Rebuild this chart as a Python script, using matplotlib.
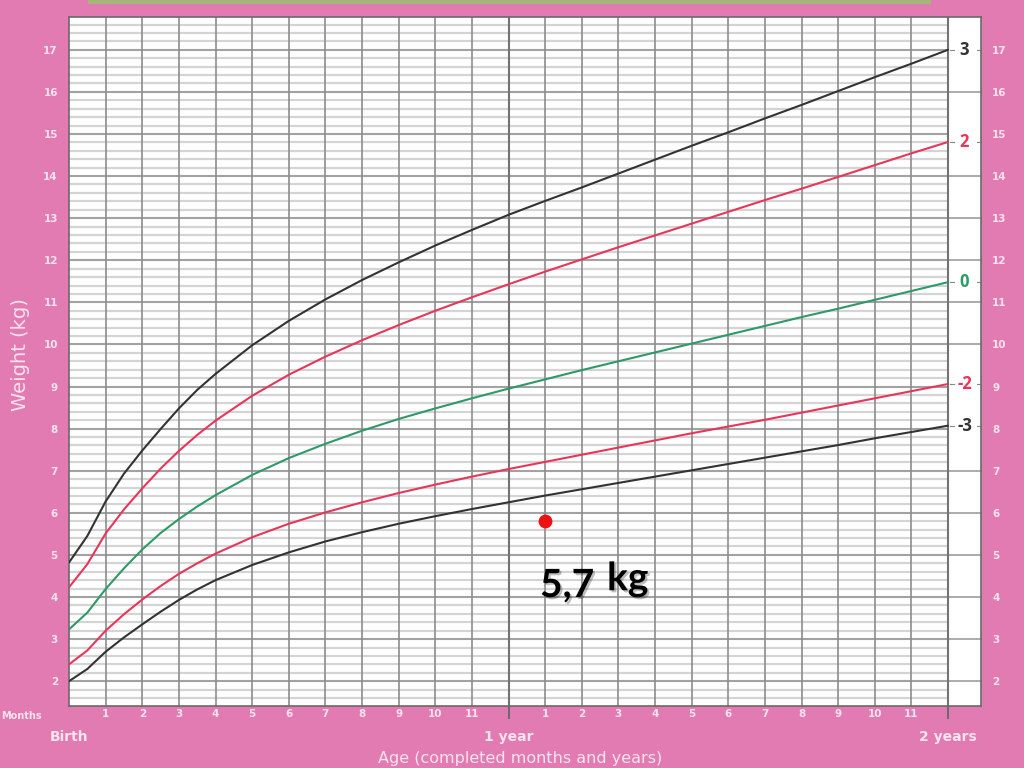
import matplotlib.pyplot as plt
import matplotlib.patheffects as pe
import numpy as np

# WHO weight-for-age, girls, birth to 2 years (kg)
age = [0, 0.5, 1, 1.5, 2, 2.5, 3, 3.5, 4, 5, 6, 7, 8, 9, 10, 11, 12, 13, 14,
       15, 16, 17, 18, 19, 20, 21, 22, 23, 24]

sd3 = [4.82, 5.45, 6.27, 6.93, 7.48, 7.99, 8.48, 8.92, 9.30, 9.98, 10.56,
       11.07, 11.53, 11.95, 12.35, 12.72, 13.08, 13.41, 13.73, 14.06, 14.39,
       14.72, 15.04, 15.37, 15.69, 16.02, 16.35, 16.67, 17.00]
sd2 = [4.23, 4.78, 5.51, 6.08, 6.58, 7.05, 7.47, 7.85, 8.19, 8.78, 9.28,
       9.71, 10.10, 10.46, 10.80, 11.12, 11.43, 11.73, 12.02, 12.31, 12.59,
       12.87, 13.15, 13.43, 13.70, 13.98, 14.26, 14.54, 14.81]
sd0 = [3.23, 3.63, 4.19, 4.68, 5.13, 5.52, 5.85, 6.15, 6.42, 6.90, 7.30,
       7.64, 7.95, 8.23, 8.48, 8.72, 8.95, 9.17, 9.39, 9.60, 9.81, 10.02,
       10.23, 10.44, 10.65, 10.85, 11.06, 11.27, 11.48]
sd2neg = [2.40, 2.73, 3.20, 3.59, 3.94, 4.26, 4.55, 4.80, 5.03, 5.42, 5.74,
          6.01, 6.25, 6.47, 6.67, 6.86, 7.04, 7.21, 7.38, 7.55, 7.72, 7.89,
          8.05, 8.21, 8.38, 8.55, 8.72, 8.89, 9.06]
sd3neg = [2.00, 2.29, 2.70, 3.04, 3.35, 3.65, 3.93, 4.18, 4.40, 4.76, 5.06,
          5.32, 5.54, 5.74, 5.92, 6.09, 6.25, 6.41, 6.56, 6.71, 6.86, 7.01,
          7.16, 7.31, 7.46, 7.61, 7.77, 7.92, 8.07]

curve_labels = ['3', '2', '0', '-2', '-3']
curve_colors = ['#333333', '#e8365a', '#2e9a68', '#e8365a', '#333333']

child_age = 13      # months
child_weight = 5.8  # kg (where the dot sits)
child_text = '5,7'

y_ticks = list(range(2, 18))
month_ticks = list(range(1, 12)) + list(range(13, 24))
month_labels = [str(m) for m in range(1, 12)] * 2

PINK = '#e27bb1'
LIGHT = '#fbe3ef'


def main():
    fig = plt.figure(figsize=(10.24, 7.68), dpi=100, facecolor=PINK)
    ax = fig.add_axes([0.0674, 0.0807, 0.8906, 0.8972])
    ax.set_facecolor('white')
    ax.set_xlim(0, 24.9)
    ax.set_ylim(1.41, 17.78)

    # thin olive strip at the very top
    fig.patches.append(plt.Rectangle((0.086, 0.996), 0.822, 0.004,
                                     transform=fig.transFigure,
                                     color='#a9b27a', zorder=0))

    # grid
    minor = np.arange(1.6, 17.8, 0.2)
    ax.hlines(minor, 0, 24, colors='#d4d4d4', lw=1.6, zorder=1)
    ax.hlines(y_ticks, 0, 24, colors='#939393', lw=1.1, zorder=1)
    box_lines = [k for k in y_ticks if k not in (8, 9, 15, 17)]
    ax.hlines(box_lines, 24, 24.9, colors='#939393', lw=1.1, zorder=1)
    ax.vlines(range(1, 25), 1.41, 17.78, colors='#8c8c8c', lw=1.2, zorder=1)
    ax.vlines([12, 24], 1.41, 17.78, colors='#737373', lw=1.5, zorder=1)

    # curves
    series = [sd3, sd2, sd0, sd2neg, sd3neg]
    for vals, lab, col in zip(series, curve_labels, curve_colors):
        ax.plot(age, vals, color=col, lw=1.5, zorder=3, solid_capstyle='round')
        ax.text(24.45, vals[-1], lab, color=col, fontsize=12,
                fontweight='bold', ha='center', va='center',
                family='Open Sans', zorder=4)
        ax.plot([24.05, 24.15], [vals[-1]] * 2, color='#888888', lw=0.8)
        ax.plot([24.8, 24.9], [vals[-1]] * 2, color='#888888', lw=0.8,
                clip_on=False)

    # child point
    ax.scatter([child_age], [child_weight], s=80, color='#ee1111', zorder=5)
    shadow = [pe.withSimplePatchShadow(offset=(1.5, -1.5), alpha=0.25)]
    ax.text(12.86, 4.0, child_text, fontsize=28, fontweight='bold',
            family='Lato', color='black', ha='left', va='baseline', zorder=5,
            path_effects=shadow)
    ax.text(14.69, 4.16, 'kg', fontsize=28, fontweight='bold',
            family='Lato', color='black', ha='left', va='baseline', zorder=5,
            path_effects=shadow)

    # axes styling
    for s in ax.spines.values():
        s.set_color('#6a6a6a')
        s.set_linewidth(1.2)
    ax.set_yticks(y_ticks)
    ax.set_yticklabels([str(t) for t in y_ticks])
    ax.tick_params(axis='y', length=0, labelsize=7.5, labelcolor=LIGHT,
                   pad=8, labelleft=True, labelright=True)
    ax.set_xticks(month_ticks)
    ax.set_xticklabels(month_labels)
    ax.tick_params(axis='x', length=0, labelsize=7.5, labelcolor=LIGHT, pad=2)
    for t in ax.get_xticklabels() + ax.get_yticklabels():
        t.set_fontweight('bold')

    ax.vlines([12, 24], 1.1, 1.41, colors='#6a6a6a', lw=1.4, clip_on=False)

    fig.text(0.001, 0.068, 'Months', color=LIGHT, fontsize=7,
             fontweight='bold', ha='left', va='center')
    for xm, lab in [(0, 'Birth'), (12, '1 year'), (24, '2 years')]:
        xf = 0.0674 + 0.8906 * xm / 24.9
        fig.text(xf, 0.041, lab, color=LIGHT, fontsize=10, fontweight='bold',
                 ha='center', va='center')
    fig.text(0.508, 0.012, 'Age (completed months and years)', color=LIGHT,
             fontsize=11.5, ha='center', va='center')
    fig.text(0.02, 0.538, 'Weight (kg)', color=LIGHT, fontsize=14,
             rotation=90, ha='center', va='center')

    fig.savefig('out.png', dpi=100, facecolor=PINK)


if __name__ == "__main__":
    main()
